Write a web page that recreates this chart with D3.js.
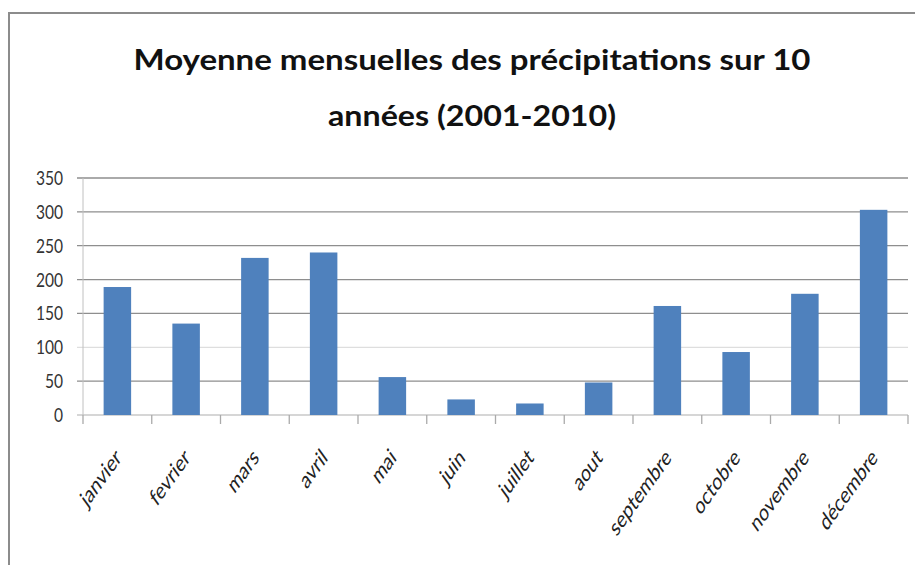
<!DOCTYPE html>
<html>
<head>
<meta charset="utf-8">
<script src="https://cdn.jsdelivr.net/npm/d3@7"></script>
<style>
  body { margin: 0; background: #fff; }
  svg { display: block; }
</style>
</head>
<body>
<svg id="chart"></svg>
<script>
// data
var months = ["janvier", "fevrier", "mars", "avril", "mai", "juin",
              "juillet", "aout", "septembre", "octobre", "novembre", "décembre"];
var rainfall = [189, 135, 232, 240, 56, 23, 17, 48, 161, 93, 179, 303];
var yTicks = [0, 50, 100, 150, 200, 250, 300, 350];
var titleLines = ["Moyenne mensuelles des précipitations sur 10", "années (2001-2010)"];

var width = 915, height = 565;
var margin = { top: 178, left: 83, right: 7, bottom: 150 };

var svg = d3.select("#chart")
    .attr("width", width)
    .attr("height", height);

// outer frame of the chart area
svg.append("path")
    .attr("d", "M9,565 V13 H915")
    .attr("fill", "none")
    .attr("stroke", "#8c8c8c")
    .attr("stroke-width", 2);

// title (narrow, heavy font in the original -> squeeze a bold face into the same width)
var titleWidths = [677, 288];
svg.append("g")
    .selectAll("text")
    .data(titleLines)
    .enter().append("text")
    .attr("x", function (d, i) { return 472 - titleWidths[i] / 2; })
    .attr("y", function (d, i) { return 70 + i * 56; })
    .attr("textLength", function (d, i) { return titleWidths[i]; })
    .attr("lengthAdjust", "spacingAndGlyphs")
    .attr("font-family", "Lato, 'Open Sans', sans-serif")
    .attr("font-size", 29)
    .attr("font-weight", 700)
    .attr("fill", "#111")
    .text(function (d) { return d; });

var x = d3.scaleBand()
    .domain(months)
    .range([margin.left, width - margin.right])
    .paddingInner(0.6)
    .paddingOuter(0.3);

var y = d3.scaleLinear()
    .domain([0, 350])
    .range([415, margin.top]);

// gridlines
svg.append("g")
    .selectAll("line")
    .data(yTicks)
    .enter().append("line")
    .attr("x1", margin.left - 6)
    .attr("x2", width - margin.right)
    .attr("y1", function (d) { return y(d); })
    .attr("y2", function (d) { return y(d); })
    .attr("stroke", function (d) {
        if (d === 0) return "#c8c8c8";
        if (d === 100) return "#dedede";
        return "#8e8e8e";
    })
    .attr("stroke-width", 1.3);

// y axis line
svg.append("line")
    .attr("x1", margin.left).attr("x2", margin.left)
    .attr("y1", y(350)).attr("y2", y(0))
    .attr("stroke", "#c0c0c0");

// y tick labels
svg.append("g")
    .selectAll("text")
    .data(yTicks)
    .enter().append("text")
    .attr("transform", function (d) { return "translate(63," + (y(d) + 7) + ") scale(0.82,1)"; })
    .attr("text-anchor", "end")
    .attr("font-family", "Lato, sans-serif")
    .attr("font-size", 19)
    .attr("fill", "#333")
    .text(function (d) { return d; });

// x axis ticks between categories
var bounds = d3.range(months.length + 1).map(function (i) {
    return margin.left + i * (width - margin.right - margin.left) / months.length;
});
svg.append("g")
    .selectAll("line")
    .data(bounds)
    .enter().append("line")
    .attr("x1", function (d) { return d; })
    .attr("x2", function (d) { return d; })
    .attr("y1", y(0))
    .attr("y2", y(0) + 9)
    .attr("stroke", "#aaa")
    .attr("stroke-width", 1.3);

// bars
svg.append("g")
    .selectAll("rect")
    .data(rainfall)
    .enter().append("rect")
    .attr("x", function (d, i) { return x(months[i]); })
    .attr("y", function (d) { return y(d); })
    .attr("width", x.bandwidth())
    .attr("height", function (d) { return y(0) - y(d); })
    .attr("fill", "#4f81bd");

// rotated month labels (image is stretched vertically, so they slant steeper than 45deg)
svg.append("g")
    .selectAll("text")
    .data(months)
    .enter().append("text")
    .attr("transform", function (d) {
        var cx = x(d) + x.bandwidth() / 2 + 5;
        return "translate(" + cx + ",459) scale(1,1.4) rotate(-45)";
    })
    .attr("text-anchor", "end")
    .attr("font-family", "Lato, sans-serif")
    .attr("font-size", 17)
    .attr("fill", "#222")
    .text(function (d) { return d; });
</script>
</body>
</html>
